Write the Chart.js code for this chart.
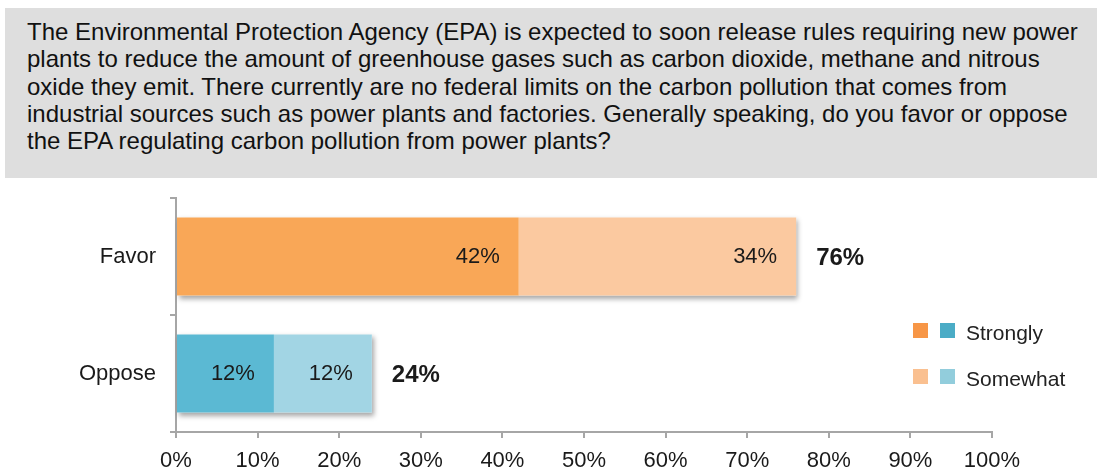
<!DOCTYPE html>
<html>
<head>
<meta charset="utf-8">
<script src="https://cdn.jsdelivr.net/npm/chart.js@4"></script>
<style>
  html, body { margin:0; padding:0; background:#fff; width:1102px; height:476px; overflow:hidden; font-family:"Liberation Sans", Arial, sans-serif; }
  #q { position:absolute; left:5px; top:8px; width:1092px; height:170px; background:#DEDEDE; box-sizing:border-box; padding:10px 0 0 22px; font-size:24px; line-height:27.3px; color:#111; white-space:nowrap; }
  #wrap { position:absolute; left:0; top:180px; width:1102px; height:296px; }
  .leg { position:absolute; font-size:21px; line-height:21px; color:#222; }
  .sw { position:absolute; width:15px; height:15px; }
</style>
</head>
<body>
<div id="q">The Environmental Protection Agency (EPA) is expected to soon release rules requiring new power<br>plants to reduce the amount of greenhouse gases such as carbon dioxide, methane and nitrous<br>oxide they emit. There currently are no federal limits on the carbon pollution that comes from<br>industrial sources such as power plants and factories. Generally speaking, do you favor or oppose<br>the EPA regulating carbon pollution from power plants?</div>
<div id="wrap"><canvas id="c" width="1102" height="296"></canvas></div>
<div class="sw" style="left:913px;top:323px;background:#F79646"></div>
<div class="sw" style="left:940px;top:323px;background:#4BACC6"></div>
<div class="leg" style="left:966px;top:322px">Strongly</div>
<div class="sw" style="left:913px;top:369px;background:#FAC090"></div>
<div class="sw" style="left:940px;top:369px;background:#92CDDC"></div>
<div class="leg" style="left:966px;top:368px">Somewhat</div>
<script>
const categories = ["Favor", "Oppose"];
const strongly = [42, 12];
const somewhat = [34, 12];
const seriesNames = ["Strongly", "Somewhat"];
const tickValues = [0,10,20,30,40,50,60,70,80,90,100];

const stronglyColors = ["#F9A757", "#5BB9D3"];
const somewhatColors = ["#FBC9A0", "#A2D5E4"];

// soft drop shadow behind each whole stacked bar
const shadowPlugin = {
  id: 'shadow',
  beforeDatasetsDraw(chart) {
    const ctx = chart.ctx;
    const first = chart.getDatasetMeta(0).data;
    const last = chart.getDatasetMeta(chart.data.datasets.length - 1).data;
    ctx.save();
    ctx.shadowColor = 'rgba(0,0,0,0.35)';
    ctx.shadowBlur = 5;
    ctx.shadowOffsetX = 2;
    ctx.shadowOffsetY = 3;
    ctx.fillStyle = '#ffffff';
    first.forEach((el, i) => {
      const a = el.getProps(['base', 'y', 'height'], true);
      const b = last[i].getProps(['x'], true);
      ctx.fillRect(a.base, a.y - a.height / 2, b.x - a.base, a.height);
    });
    ctx.restore();
  }
};

const labelPlugin = {
  id: 'labels',
  afterDatasetsDraw(chart) {
    const ctx = chart.ctx;
    ctx.save();
    ctx.fillStyle = '#1a1a1a';
    ctx.textBaseline = 'middle';
    ctx.font = '22px "Liberation Sans", Arial, sans-serif';
    ctx.textAlign = 'right';
    chart.data.datasets.forEach((ds, di) => {
      chart.getDatasetMeta(di).data.forEach((el, i) => {
        ctx.fillText(ds.data[i] + '%', el.x - 19, el.y);
      });
    });
    ctx.font = 'bold 24px "Liberation Sans", Arial, sans-serif';
    ctx.textAlign = 'left';
    const last = chart.getDatasetMeta(chart.data.datasets.length - 1).data;
    categories.forEach((c, i) => {
      const total = strongly[i] + somewhat[i];
      ctx.fillText(total + '%', last[i].x + 20, last[i].y + 2);
    });
    ctx.restore();
  }
};

new Chart(document.getElementById('c'), {
  type: 'bar',
  data: {
    labels: categories,
    datasets: [
      { label: seriesNames[0], data: strongly, backgroundColor: stronglyColors, borderWidth: 0 },
      { label: seriesNames[1], data: somewhat, backgroundColor: somewhatColors, borderWidth: 0 }
    ]
  },
  options: {
    indexAxis: 'y',
    responsive: false,
    animation: false,
    events: [],
    layout: { padding: { left: 0, right: 110, top: 18, bottom: 0 } },
    datasets: { bar: { categoryPercentage: 1, barPercentage: 0.667 } },
    plugins: { legend: { display: false }, tooltip: { enabled: false } },
    scales: {
      x: {
        stacked: true,
        min: 0, max: 100,
        afterBuildTicks(scale) { scale.ticks = tickValues.map(v => ({ value: v })); },
        afterFit(scale) { scale.height = 44; },
        border: { color: '#A6A6A6', width: 2 },
        grid: { drawOnChartArea: false, drawTicks: true, tickLength: 6, color: '#A6A6A6', lineWidth: 2 },
        ticks: { padding: 10, color: '#1a1a1a', font: { family: '"Liberation Sans", Arial, sans-serif', size: 22 }, callback: v => v + '%' }
      },
      y: {
        stacked: true,
        afterFit(scale) { scale.width = 176; scale.paddingTop = 0; scale.paddingBottom = 0; },
        border: { color: '#A6A6A6', width: 2 },
        grid: { drawOnChartArea: false, drawTicks: true, tickLength: 6, color: '#A6A6A6', lineWidth: 2 },
        ticks: { padding: 14, color: '#1a1a1a', font: { family: '"Liberation Sans", Arial, sans-serif', size: 22 } }
      }
    }
  },
  plugins: [shadowPlugin, labelPlugin]
});
</script>
</body>
</html>
